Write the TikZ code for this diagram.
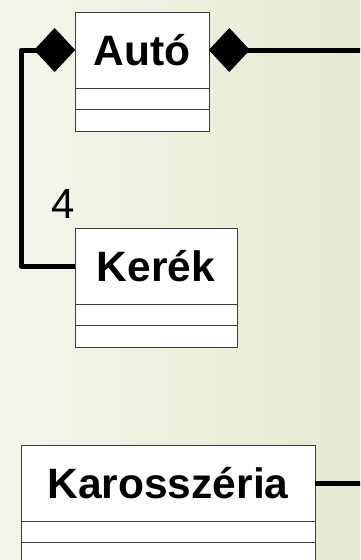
\documentclass[tikz,border=0pt]{standalone}
\usepackage{fontspec}
\setmainfont{Liberation Sans}
\usetikzlibrary{positioning,arrows.meta}
\definecolor{bgleft}{RGB}{244,246,236}
\definecolor{bgright}{RGB}{228,234,210}
\definecolor{boxgray}{RGB}{60,60,60}
\tikzset{
  classname/.style={draw=boxgray, fill=white, line width=1pt, inner sep=0pt, outer sep=0pt,
    minimum height=76pt, text height=30pt, text depth=0pt,
    font=\fontsize{42.5}{50}\selectfont\bfseries},
  classpart/.style={draw=boxgray, fill=white, line width=1pt, inner sep=0pt, outer sep=0pt,
    minimum height=21.5pt},
  mult/.style={inner sep=0pt, text height=30pt, text depth=0pt, font=\fontsize{42}{50}\selectfont},
  assoc/.style={line width=5pt, line join=round},
  comp/.style={{Diamond[length=41pt,width=44pt,line width=1pt,round]}-}
}
\begin{document}
\begin{tikzpicture}[x=1pt,y=-1pt]
  %% Background
  \useasboundingbox (0,0) rectangle (360,560);
  \clip (0,0) rectangle (360,560);
  \shade[left color=bgleft,right color=bgright] (0,0) rectangle (360,560);
  %% Classes
  \node[classname,minimum width=134pt] (auto) at (142,50) {Autó};
  \node[classpart,minimum width=134pt,below=0pt of auto] (autoattr) {};
  \node[classpart,minimum width=134pt,below=0pt of autoattr] (autoop) {};
  \node[classname,minimum width=162pt] (kerek) at (156,266) {Kerék};
  \node[classpart,minimum width=162pt,below=0pt of kerek] (kerekattr) {};
  \node[classpart,minimum width=162pt,below=0pt of kerekattr] (kerekop) {};
  \node[classname,minimum width=294pt] (karosszeria) at (168,483) {Karosszéria};
  \node[classpart,minimum width=294pt,below=0pt of karosszeria] (karosszeriaattr) {};
  \node[classpart,minimum width=294pt,below=0pt of karosszeriaattr] (karosszeriaop) {};
  %% Composition Autó -- Kerék
  \draw[assoc,comp] (auto.west) -- ++(-54,0) |- (kerek.west);
  \node[mult] (mult) at (63,203) {4};
  %% Composition Autó -- outside
  \coordinate (autoout) at (370,50);
  \draw[assoc,comp] (auto.east) -- (autoout);
  %% Karosszéria -- outside
  \coordinate (karosszeriaout) at (370,483);
  \draw[assoc] (karosszeria.east) -- (karosszeriaout);
\end{tikzpicture}
\end{document}
